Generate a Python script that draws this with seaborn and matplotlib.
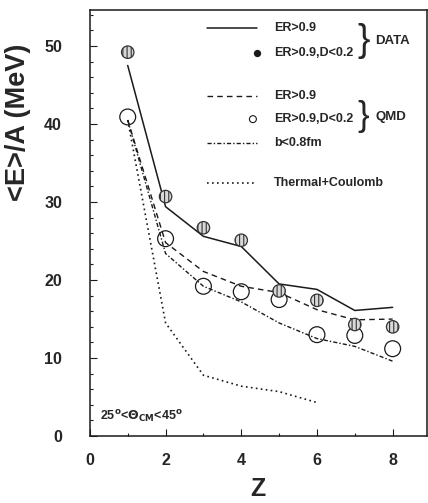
# <E>/A vs Z - data og QMD sammenligning

import numpy as np
import matplotlib
matplotlib.use('Agg')
import matplotlib.pyplot as plt
import seaborn as sns

# Data
z = [1, 2, 3, 4, 5, 6, 7, 8]
data_er = [47.5, 29.4, 25.6, 24.3, 19.5, 18.8, 16.1, 16.5]
data_er_d = [49.2, 30.7, 26.7, 25.1, 18.6, 17.4, 14.3, 14.0]
qmd_er = [40.5, 24.8, 21.1, 19.2, 18.4, 16.2, 14.9, 15.0]
qmd_er_d = [40.9, 25.3, 19.2, 18.5, 17.5, 13.0, 12.9, 11.2]
qmd_b = [40.5, 23.4, 19.2, 17.2, 14.5, 12.5, 11.5, 9.6]
z_thermal = [1, 2, 3, 4, 5, 6]
thermal = [40.5, 14.5, 7.8, 6.4, 5.7, 4.3]

sns.set_theme(style='ticks')
plt.rcParams['font.family'] = ['Liberation Sans', 'DejaVu Sans']
plt.rcParams['font.weight'] = 'bold'
plt.rcParams['hatch.linewidth'] = 0.8

fig = plt.figure(figsize=(4.28, 5.03), dpi=100)
ax = fig.add_axes([0.210, 0.133, 0.787, 0.847])

dashed = (0, (4, 3))
dashdot = (0, (3, 1.5, 1, 1.5))
dotted = (0, (1, 2))

sns.lineplot(x=z, y=data_er, ax=ax, color='k', lw=1.1)
sns.lineplot(x=z, y=qmd_er, ax=ax, color='k', lw=1.0, linestyle=dashed)
sns.lineplot(x=z, y=qmd_b, ax=ax, color='k', lw=1.0, linestyle=dashdot)
sns.lineplot(x=z_thermal, y=thermal, ax=ax, color='k', lw=1.2, linestyle=dotted)

ax.scatter(z, qmd_er_d, s=130, facecolor='none', edgecolor='k', lw=0.9, zorder=3)
ax.scatter(z, data_er_d, s=80, facecolor='#d8d8d8', edgecolor='#333333',
           hatch='||||', lw=0.9, zorder=4)

ax.set_xlim(0, 8.9)
ax.set_ylim(0, 54.6)
ax.set_xticks([0, 2, 4, 6, 8])
ax.set_xticks(np.arange(1, 9, 2), minor=True)
ax.set_yticks([0, 10, 20, 30, 40, 50])
ax.set_yticks(np.arange(2, 55, 2), minor=True)
ax.tick_params(which='both', direction='in', labelsize=11.5, width=0.8, color='k')
ax.tick_params(which='major', length=5)
ax.tick_params(axis='x', which='major', pad=12)
ax.tick_params(axis='y', which='major', pad=20)
ax.tick_params(which='minor', length=2.5)
for lab in ax.get_xticklabels() + ax.get_yticklabels():
    lab.set_fontweight('bold')
for s in ax.spines.values():
    s.set_linewidth(1.1)
    s.set_color('k')

ax.set_xlabel('Z', fontsize=18, fontweight='bold', labelpad=7)
ax.set_ylabel('<E>/A (MeV)', fontsize=19.5, fontweight='bold')
ax.yaxis.set_label_coords(-0.175, 0.737)

ax.text(0.03, 0.035, r'25$^\mathbf{o}$<$\mathbf{\Theta_{CM}}$<45$^\mathbf{o}$',
        transform=ax.transAxes, fontsize=9, fontweight='bold')

# Manuel legend
tr = ax.transAxes
lx0, lx1, tx = 0.347, 0.496, 0.546
ax.plot([lx0, lx1], [0.958, 0.958], transform=tr, color='k', lw=1.1)
ax.scatter([0.496], [0.899], transform=tr, s=18, color='k')
ax.plot([lx0, lx1], [0.798, 0.798], transform=tr, color='k', lw=1.0, linestyle=dashed)
ax.scatter([0.484], [0.744], transform=tr, s=25, facecolor='none', edgecolor='k', lw=0.8)
ax.plot([lx0, lx1], [0.688, 0.688], transform=tr, color='k', lw=1.0, linestyle=dashdot)
ax.plot([lx0, lx1], [0.594, 0.594], transform=tr, color='k', lw=1.2, linestyle=dotted)

labels = ['ER>0.9', 'ER>0.9,D<0.2', 'ER>0.9', 'ER>0.9,D<0.2', 'b<0.8fm', 'Thermal+Coulomb']
ys = [0.958, 0.899, 0.798, 0.744, 0.688, 0.594]
for lab, yy in zip(labels, ys):
    ax.text(tx, yy, lab, transform=tr, fontsize=9, fontweight='bold', va='center')

ax.text(0.812, 0.927, '}', transform=tr, fontsize=27, fontweight='light', va='center', ha='center')
ax.text(0.848, 0.927, 'DATA', transform=tr, fontsize=9.5, fontweight='bold', va='center')
ax.text(0.812, 0.749, '}', transform=tr, fontsize=25, fontweight='light', va='center', ha='center')
ax.text(0.848, 0.749, 'QMD', transform=tr, fontsize=9.5, fontweight='bold', va='center')

fig.savefig('out.png', dpi=100)
